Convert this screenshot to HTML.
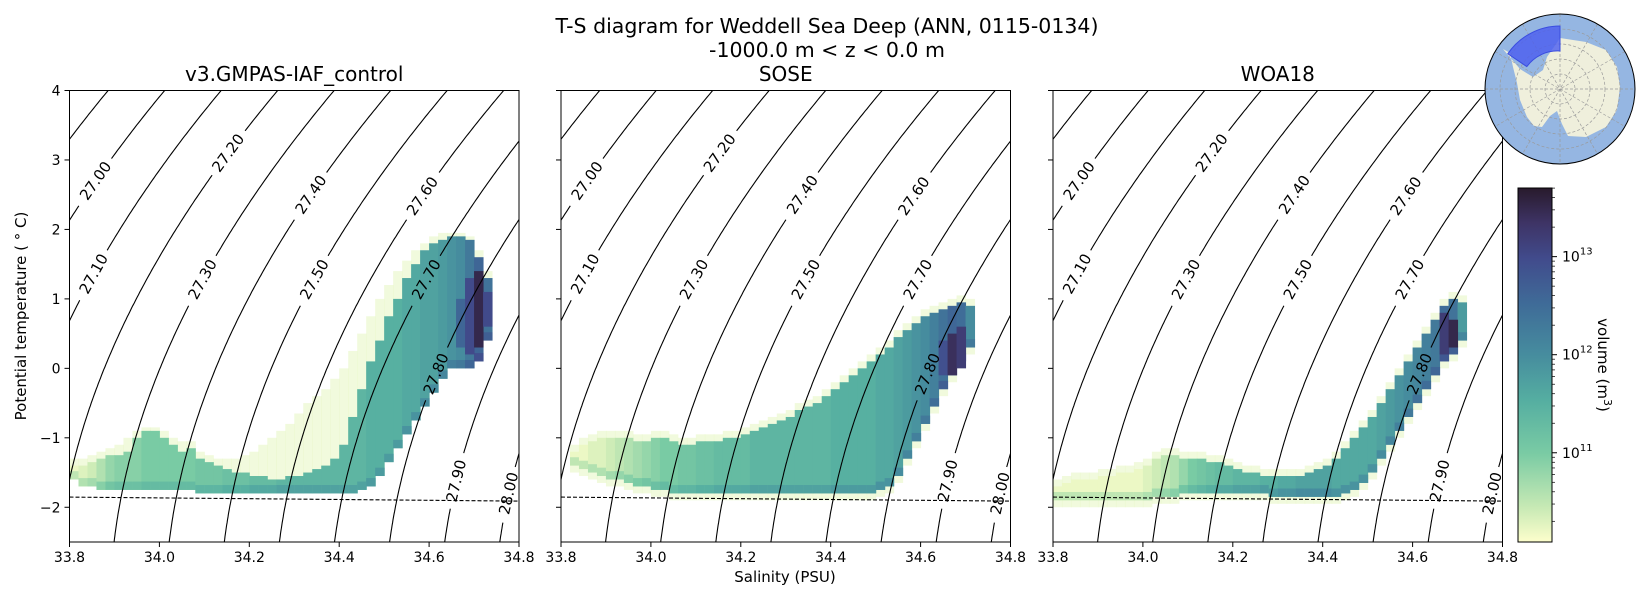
<!DOCTYPE html>
<html><head><meta charset="utf-8">
<style>
html,body{margin:0;padding:0;background:#fff;}
svg{display:block;font-family:"DejaVu Sans","Liberation Sans",sans-serif;}
</style></head>
<body>
<svg id="fig" width="1650" height="600" viewBox="0 0 1650 600" xmlns="http://www.w3.org/2000/svg">
<defs>
<linearGradient id="cmap" x1="0" y1="1" x2="0" y2="0">
<stop offset="0" stop-color="#fdfecc"/><stop offset="0.1" stop-color="#c6e9b4"/><stop offset="0.25" stop-color="#7acba4"/><stop offset="0.4" stop-color="#55aea1"/><stop offset="0.53" stop-color="#468c9e"/><stop offset="0.67" stop-color="#3f6c98"/><stop offset="0.8" stop-color="#414b8c"/><stop offset="0.9" stop-color="#3e3466"/><stop offset="1" stop-color="#281a2c"/>
</linearGradient>
<clipPath id="inset-clip"><circle cx="1560" cy="89" r="75"/></clipPath>
</defs>
<text x="827" y="33" font-size="20.5" text-anchor="middle">T-S diagram for Weddell Sea Deep (ANN, 0115-0134)</text>
<text x="827" y="57" font-size="20.5" text-anchor="middle">-1000.0 m &lt; z &lt; 0.0 m</text>
<text transform="translate(26,316) rotate(-90)" font-size="15" text-anchor="middle">Potential temperature ( ° C)</text>
<text x="785" y="582" font-size="15" text-anchor="middle">Salinity (PSU)</text>
<g id="panels"></g>
<g id="colorbar">
<rect x="1518" y="188" width="34" height="354" fill="url(#cmap)" stroke="#000" stroke-width="1"/>
</g>
<text transform="translate(1598,365) rotate(90)" font-size="15" text-anchor="middle">volume (m<tspan dy="-6" font-size="11">3</tspan><tspan dy="6">)</tspan></text>
<g>
<circle cx="1560" cy="89" r="75" fill="#95b6e2"/>
<g clip-path="url(#inset-clip)">
<path id="land" fill="#efefdc" d=""/>
<g id="grat" stroke="#9a9a9a" stroke-width="0.7" stroke-dasharray="3,2" fill="none"></g>
<path id="sector" fill="#4a5df0" fill-opacity="0.8" stroke="#3a4de0" d=""/>
</g>
<circle cx="1560" cy="89" r="75" fill="none" stroke="#000" stroke-width="1"/>
</g>
</svg>
<script>
// ---- data ----
const panelTitles = ["v3.GMPAS-IAF_control","SOSE","WOA18"];
const xTicks = [33.8,34.0,34.2,34.4,34.6,34.8];
const yTicks = [-2,-1,0,1,2,3,4];
const cbTicks = [11,12,13];
const contourLevels = [26.9,27.0,27.1,27.2,27.3,27.4,27.5,27.6,27.7,27.8,27.9,28.0,28.1];
const labelLevels = [27.0,27.1,27.2,27.3,27.4,27.5,27.6,27.7,27.8,27.9,28.0];
const labelTemps = [2.7,1.36,3.1,1.28,2.5,1.28,2.48,1.28,-0.08,-1.62,-1.8];

// model
const mS  = [33.81,33.83,33.85,33.87,33.89,33.91,33.93,33.95,33.97,33.99,34.01,34.03,34.05,34.07,34.09,34.11,34.13,34.15,34.17,34.19,34.21,34.23,34.25,34.27,34.29,34.31,34.33,34.35,34.37,34.39,34.41,34.43,34.45,34.47,34.49,34.51,34.53,34.55,34.57,34.59,34.61,34.63,34.65,34.67,34.69,34.71,34.73];
const mLo = [-1.6,-1.7,-1.7,-1.75,-1.75,-1.75,-1.75,-1.75,-1.75,-1.75,-1.75,-1.75,-1.75,-1.75,-1.8,-1.8,-1.8,-1.8,-1.8,-1.8,-1.8,-1.8,-1.8,-1.8,-1.8,-1.8,-1.8,-1.8,-1.8,-1.8,-1.8,-1.8,-1.75,-1.7,-1.55,-1.35,-1.15,-0.95,-0.75,-0.55,-0.35,-0.15,0.0,0.0,0.0,0.1,0.4];
const mHi = [-1.4,-1.4,-1.35,-1.3,-1.25,-1.25,-1.2,-1.0,-0.9,-0.9,-1.0,-1.1,-1.2,-1.15,-1.3,-1.35,-1.4,-1.45,-1.5,-1.5,-1.55,-1.55,-1.6,-1.6,-1.55,-1.55,-1.5,-1.45,-1.4,-1.3,-1.1,-0.7,-0.3,0.1,0.4,0.75,1.0,1.3,1.5,1.7,1.8,1.85,1.9,1.9,1.85,1.6,1.3];
const mVal= [10.2,10.3,10.4,10.6,10.8,10.9,10.9,10.9,11.0,11.0,11.0,11.0,11.0,11.0,11.1,11.1,11.1,11.2,11.2,11.2,11.3,11.3,11.3,11.4,11.4,11.4,11.4,11.4,11.4,11.4,11.4,11.4,11.4,11.5,11.5,11.5,11.5,11.6,11.6,11.7,11.7,11.8,11.9,12.0,12.3,12.6,12.4];
const mHalo=[-1.3,-1.3,-1.25,-1.2,-1.15,-1.1,-1.0,-0.9,-0.85,-0.85,-0.9,-1.0,-1.05,-1.05,-1.2,-1.25,-1.3,-1.3,-1.3,-1.25,-1.2,-1.1,-1.0,-0.9,-0.8,-0.65,-0.5,-0.4,-0.3,-0.15,0.0,0.25,0.5,0.75,1.0,1.2,1.4,1.55,1.7,1.8,1.9,1.95,1.95,1.95,1.9,1.7,1.4];
const mCoreS=[34.67,34.69,34.71,34.73];
const mCoreLo=[0.3,0.2,0.3,0.6];
const mCoreHi=[1.0,1.3,1.4,1.1];
const mCoreVal=[12.6,13.0,13.5,13.0];

// SOSE
const sS  = [33.83,33.85,33.87,33.89,33.91,33.93,33.95,33.97,33.99,34.01,34.03,34.05,34.07,34.09,34.11,34.13,34.15,34.17,34.19,34.21,34.23,34.25,34.27,34.29,34.31,34.33,34.35,34.37,34.39,34.41,34.43,34.45,34.47,34.49,34.51,34.53,34.55,34.57,34.59,34.61,34.63,34.65,34.67,34.69,34.71];
const sLo = [-1.4,-1.45,-1.5,-1.55,-1.6,-1.6,-1.65,-1.7,-1.7,-1.75,-1.75,-1.8,-1.8,-1.8,-1.8,-1.8,-1.8,-1.8,-1.8,-1.8,-1.8,-1.8,-1.8,-1.8,-1.8,-1.8,-1.8,-1.8,-1.8,-1.8,-1.8,-1.8,-1.8,-1.8,-1.75,-1.7,-1.55,-1.3,-1.05,-0.8,-0.55,-0.3,-0.1,0.1,0.3];
const sHi = [-1.2,-1.1,-1.05,-1.0,-1.0,-1.0,-1.0,-1.05,-1.05,-1.0,-1.0,-1.05,-1.1,-1.1,-1.05,-1.05,-1.05,-1.0,-1.0,-0.95,-0.9,-0.85,-0.8,-0.75,-0.7,-0.6,-0.55,-0.5,-0.4,-0.3,-0.2,-0.1,0.0,0.1,0.2,0.3,0.45,0.55,0.65,0.75,0.8,0.85,0.9,0.95,0.9];
const sVal= [10.2,10.2,10.3,10.3,10.4,10.5,10.6,10.7,10.8,10.9,11.0,11.0,11.1,11.1,11.2,11.2,11.3,11.3,11.3,11.3,11.4,11.4,11.4,11.4,11.4,11.4,11.4,11.4,11.4,11.5,11.5,11.5,11.5,11.5,11.6,11.6,11.7,11.8,11.9,12.0,12.2,12.4,12.6,12.5,12.0];
const sCoreS=[34.65,34.67,34.69];
const sCoreLo=[-0.1,-0.1,0.0];
const sCoreHi=[0.4,0.5,0.6];
const sCoreVal=[12.9,13.4,13.2];

// WOA18
const wS  = [33.81,33.83,33.85,33.87,33.89,33.91,33.93,33.95,33.97,33.99,34.01,34.03,34.05,34.07,34.09,34.11,34.13,34.15,34.17,34.19,34.21,34.23,34.25,34.27,34.29,34.31,34.33,34.35,34.37,34.39,34.41,34.43,34.45,34.47,34.49,34.51,34.53,34.55,34.57,34.59,34.61,34.63,34.65,34.67,34.69,34.71];
const wLo = [-1.9,-1.9,-1.9,-1.9,-1.9,-1.9,-1.9,-1.9,-1.9,-1.9,-1.9,-1.85,-1.85,-1.85,-1.8,-1.8,-1.8,-1.8,-1.8,-1.8,-1.8,-1.8,-1.8,-1.8,-1.85,-1.85,-1.85,-1.85,-1.85,-1.85,-1.85,-1.85,-1.8,-1.75,-1.65,-1.5,-1.3,-1.1,-0.9,-0.7,-0.5,-0.3,-0.1,0.1,0.2,0.4];
const wHi = [-1.7,-1.65,-1.6,-1.6,-1.6,-1.55,-1.55,-1.5,-1.5,-1.45,-1.4,-1.3,-1.25,-1.25,-1.3,-1.3,-1.3,-1.35,-1.35,-1.4,-1.45,-1.5,-1.5,-1.55,-1.55,-1.55,-1.55,-1.55,-1.5,-1.45,-1.4,-1.3,-1.15,-1.0,-0.85,-0.7,-0.5,-0.3,-0.1,0.1,0.3,0.5,0.7,0.9,1.0,0.95];
const wVal= [10.2,10.2,10.2,10.2,10.2,10.2,10.2,10.2,10.2,10.2,10.3,10.4,10.5,10.6,10.8,11.0,11.1,11.2,11.3,11.3,11.4,11.4,11.4,11.5,11.5,11.6,11.6,11.7,11.7,11.7,11.7,11.6,11.6,11.6,11.6,11.6,11.7,11.8,11.9,12.0,12.1,12.2,12.3,12.5,12.4,11.8];
const wCoreS=[34.67,34.69];
const wCoreLo=[0.2,0.3];
const wCoreHi=[0.8,0.7];
const wCoreVal=[13.2,13.5];

// ---- layout ----
const NS='http://www.w3.org/2000/svg';
const X0=[69.5,561,1053], W=449.5, Y0=90.5, H=451.5;
const SMIN=33.8,SMAX=34.8,TMIN=-2.5,TMAX=4;
const CB_Y0=188, CB_H=354, CB_MIN=10.09, CB_MAX=13.70;
function sx(p,S){return X0[p]+(S-SMIN)/(SMAX-SMIN)*W;}
function ty(T){return Y0+(TMAX-T)/(TMAX-TMIN)*H;}
function cbY(v){return CB_Y0+CB_H-(v-CB_MIN)/(CB_MAX-CB_MIN)*CB_H;}
function mk(tag,attrs,parent){const e=document.createElementNS(NS,tag);for(const k in attrs)e.setAttribute(k,attrs[k]);if(parent)parent.appendChild(e);return e;}

const stops=[[0,[253,254,204]],[0.1,[198,233,180]],[0.25,[122,203,164]],[0.4,[85,174,161]],[0.53,[70,140,158]],[0.67,[63,108,152]],[0.8,[65,75,140]],[0.9,[62,52,102]],[1,[40,26,44]]];
function cmap(v){let t=(v-CB_MIN)/(CB_MAX-CB_MIN);t=Math.max(0,Math.min(1,t));
 for(let i=1;i<stops.length;i++){if(t<=stops[i][0]){const a=stops[i-1],b=stops[i];const f=(t-a[0])/(b[0]-a[0]);
 const c=a[1].map((x,j)=>Math.round(x+(b[1][j]-x)*f));return `rgb(${c[0]},${c[1]},${c[2]})`;}}return 'rgb(40,26,44)';}

function sigma0(S,T){
 const rw=999.842594+6.793952e-2*T-9.095290e-3*T*T+1.001685e-4*T**3-1.120083e-6*T**4+6.536332e-9*T**5;
 const A=8.24493e-1-4.0899e-3*T+7.6438e-5*T*T-8.2467e-7*T**3+5.3875e-9*T**4;
 const B=-5.72466e-3+1.0227e-4*T-1.6546e-6*T*T;
 const C=4.8314e-4;
 return rw+A*S+B*Math.pow(S,1.5)+C*S*S-1000;}
function solveS(lev,T){let a=32,b=37;for(let i=0;i<50;i++){const m=(a+b)/2;if(sigma0(m,T)<lev)a=m;else b=m;}return (a+b)/2;}
function tf(S){return -0.0575*S+1.710523e-3*Math.pow(S,1.5)-2.154996e-4*S*S;}

const datasets=[
 {S:mS,lo:mLo,hi:mHi,val:mVal,halo:mHalo,cS:mCoreS,cLo:mCoreLo,cHi:mCoreHi,cV:mCoreVal},
 {S:sS,lo:sLo,hi:sHi,val:sVal,halo:null,cS:sCoreS,cLo:sCoreLo,cHi:sCoreHi,cV:sCoreVal},
 {S:wS,lo:wLo,hi:wHi,val:wVal,halo:null,cS:wCoreS,cLo:wCoreLo,cHi:wCoreHi,cV:wCoreVal}];

const root=document.getElementById('panels');
for(let p=0;p<3;p++){
 const g=mk('g',{},root);
 
 
 mk('clipPath',{id:'clip'+p},g).appendChild(mk('rect',{x:X0[p],y:Y0,width:W,height:H}));
 const hm=mk('g',{'clip-path':`url(#clip${p})`},g);
 
 
 const d=datasets[p];
 for(let i=0;i<d.S.length;i++){
  const top=d.halo?d.halo[i]:d.hi[i]+0.1, bot=d.halo?d.lo[i]:d.lo[i]-0.1;
  const r=mk('rect',{x:sx(p,d.S[i]-0.01),y:ty(top),width:sx(p,d.S[i]+0.01)-sx(p,d.S[i]-0.01)+0.5,height:ty(bot)-ty(top),fill:cmap(10.25),'fill-opacity':0.55},hm);
  
  
 }
 for(let i=0;i<d.S.length;i++){
  const r=mk('rect',{x:sx(p,d.S[i]-0.01),y:ty(d.hi[i]),width:sx(p,d.S[i]+0.01)-sx(p,d.S[i]-0.01)+0.5,height:ty(d.lo[i])-ty(d.hi[i]),fill:cmap(d.val[i])},hm);
  
  
  const r2=mk('rect',{x:sx(p,d.S[i]-0.01),y:ty(d.lo[i]+0.12),width:sx(p,d.S[i]+0.01)-sx(p,d.S[i]-0.01)+0.5,height:ty(d.lo[i])-ty(d.lo[i]+0.12),fill:cmap(d.val[i]+0.3)},hm);
  
  
 }
 for(let i=0;i<d.cS.length;i++){
  const r=mk('rect',{x:sx(p,d.cS[i]-0.01),y:ty(d.cHi[i]),width:sx(p,d.cS[i]+0.01)-sx(p,d.cS[i]-0.01)+0.5,height:ty(d.cLo[i])-ty(d.cHi[i]),fill:cmap(d.cV[i])},hm);
  
  
 }
 const cg=mk('g',{'clip-path':`url(#clip${p})`,fill:'none',stroke:'#000','stroke-width':1.1},g);
 
 
 for(const lev of contourLevels){
  const li=labelLevels.findIndex(v=>Math.abs(v-lev)<1e-6);
  let lc=null;
  if(li>=0){const T=labelTemps[li];lc=[sx(p,solveS(lev,T)),ty(T)];
   const a=[sx(p,solveS(lev,T-0.1)),ty(T-0.1)],b=[sx(p,solveS(lev,T+0.1)),ty(T+0.1)];
   let ang=Math.atan2(b[1]-a[1],b[0]-a[0])*180/Math.PI; if(ang<-90)ang+=180; if(ang>90)ang-=180;
   const t=mk('text',{x:0,y:0,'font-size':15,'text-anchor':'middle','dominant-baseline':'central',transform:`translate(${lc[0]},${lc[1]}) rotate(${ang})`},g);
   t.textContent=lev.toFixed(2);
   
   
  }
  let segs=[],cur=[];
  for(let T=-2.7;T<=4.2;T+=0.04){
   const pt=[sx(p,solveS(lev,T)),ty(T)];
   if(lc&&Math.hypot(pt[0]-lc[0],pt[1]-lc[1])<27){if(cur.length>1)segs.push(cur);cur=[];}
   else cur.push(pt);
  }
  if(cur.length>1)segs.push(cur);
  for(const s of segs){
   const pl=mk('polyline',{points:s.map(q=>q[0].toFixed(1)+','+q[1].toFixed(1)).join(' ')},cg);
   
   
  }
 }
 const fl=[];for(let S=SMIN;S<=SMAX+1e-9;S+=0.05)fl.push(sx(p,S).toFixed(1)+','+ty(tf(S)).toFixed(1));
 const fp=mk('polyline',{points:fl.join(' '),fill:'none',stroke:'#000','stroke-width':1.1,'stroke-dasharray':'4,2'},g);
 
 
 const fr=mk('rect',{x:X0[p],y:Y0,width:W,height:H,fill:'none',stroke:'#000','stroke-width':1},g);
 
 
 for(const v of xTicks){const x=sx(p,v);
  mk('line',{x1:x,x2:x,y1:Y0+H,y2:Y0+H+5,stroke:'#000'},g);
  const t=mk('text',{x:x,y:Y0+H+20,'font-size':14,'text-anchor':'middle'},g);t.textContent=v.toFixed(1);
  
  }
 for(const v of yTicks){const y=ty(v);
  mk('line',{x1:X0[p]-5,x2:X0[p],y1:y,y2:y,stroke:'#000'},g);
  if(p===0){const t=mk('text',{x:X0[p]-9,y:y+5,'font-size':14,'text-anchor':'end'},g);t.textContent=(v<0?'\u2212':'')+Math.abs(v);
   
   }}
 const tt=mk('text',{x:X0[p]+W/2,y:81,'font-size':20,'text-anchor':'middle'},g);
 tt.textContent=panelTitles[p];
 
 
}
const cb=document.getElementById('colorbar');
for(let e=10;e<=13;e++){for(let m=1;m<10;m++){const v=e+Math.log10(m);if(v<CB_MIN||v>CB_MAX)continue;const y=cbY(v);
 mk('line',{x1:1552,x2:1552+(m===1?5:3),y1:y,y2:y,stroke:'#000','stroke-width':m===1?1:0.7},cb);}}
for(const e of cbTicks){const t=mk('text',{x:1562,y:cbY(e)+5,'font-size':14},cb);
 t.innerHTML='10<tspan dy="-7" font-size="10">'+e+'</tspan>';
 
 }
const cx=1560,cy=89;
const landPts=[[0,-51],[26,-47],[46,-39],[57,-22],[60,-2],[57,21],[46,38],[26,48],[8,47],[2,35],[-3,22],[-10,27],[-18,38],[-26,37],[-33,28],[-40,11],[-43,-6],[-47,-22],[-50,-36],[-57,-40],[-52,-34],[-40,-20],[-27,-12],[-17,-19],[-13,-32],[-4,-45]];
document.getElementById('land').setAttribute('d','M'+landPts.map(q=>(cx+q[0])+','+(cy+q[1])).join(' L')+' Z');
const gr=document.getElementById('grat');
for(const r of [15,30,45,60])mk('circle',{cx:cx,cy:cy,r:r},gr);
for(let a=0;a<180;a+=30){const rd=a*Math.PI/180;mk('line',{x1:cx-80*Math.cos(rd),y1:cy-80*Math.sin(rd),x2:cx+80*Math.cos(rd),y2:cy+80*Math.sin(rd)},gr);}
function pol(r,a){const rd=a*Math.PI/180;return (cx+r*Math.cos(rd)).toFixed(1)+','+(cy+r*Math.sin(rd)).toFixed(1);}
document.getElementById('sector').setAttribute('d',`M${pol(38,-90)} L${pol(63,-90)} A63,63 0 0 0 ${pol(63,-146)} L${pol(40,-146)} A38,38 0 0 1 ${pol(38,-90)} Z`);
</script>
</body></html>
